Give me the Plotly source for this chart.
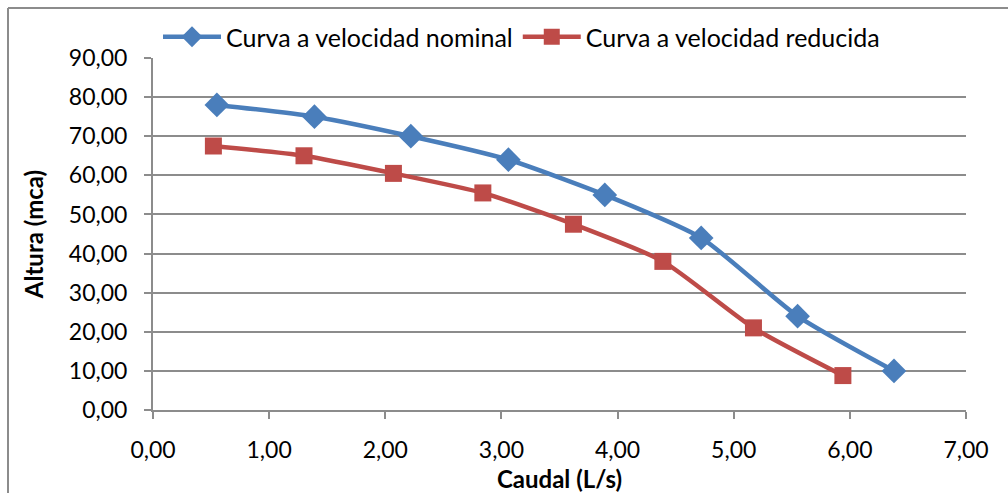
import plotly.graph_objects as go

# Pump curves: flow (L/s) vs head (mca)
caudal_nominal = [0.55, 1.39, 2.22, 3.06, 3.89, 4.72, 5.55, 6.38]
altura_nominal = [78.0, 75.0, 70.0, 64.0, 55.0, 44.0, 24.0, 10.0]

caudal_reducida = [0.52, 1.30, 2.07, 2.84, 3.62, 4.39, 5.17, 5.94]
altura_reducida = [67.5, 65.0, 60.5, 55.5, 47.5, 38.0, 21.0, 8.8]

x_ticks = [0, 1, 2, 3, 4, 5, 6, 7]
y_ticks = [0, 10, 20, 30, 40, 50, 60, 70, 80, 90]


def coma(v):
    return f"{v:.2f}".replace(".", ",")


W, H = 1008, 493
L, R, T, B = 153, 42, 58, 83
pw, ph = W - L - R, H - T - B

FONT = "Lato, 'Open Sans', sans-serif"
GRID = "#8c8c8c"

fig = go.Figure()
fig.add_trace(go.Scatter(
    x=caudal_nominal, y=altura_nominal, name="Curva a velocidad nominal",
    mode="lines+markers", line=dict(color="#4a7ebb", width=4.5, shape="spline", smoothing=0.6),
    marker=dict(symbol="diamond", size=19, color="#4a7ebb"),
))
fig.add_trace(go.Scatter(
    x=caudal_reducida, y=altura_reducida, name="Curva a velocidad reducida",
    mode="lines+markers", line=dict(color="#be4b48", width=4.5, shape="spline", smoothing=0.6),
    marker=dict(symbol="square", size=17, color="#be4b48"),
))

# outer chart frame (top and left edges visible)
px_x = lambda p: (p - L) / pw
px_y = lambda p: 1 - (p - T) / ph
fig.add_shape(type="line", xref="paper", yref="paper",
              x0=px_x(8), x1=px_x(W + 5), y0=px_y(8), y1=px_y(8),
              line=dict(color="#8c8c8c", width=2))
fig.add_shape(type="line", xref="paper", yref="paper",
              x0=px_x(8), x1=px_x(8), y0=px_y(8), y1=px_y(H + 5),
              line=dict(color="#8c8c8c", width=2))

fig.update_layout(
    width=W, height=H,
    margin=dict(l=L, r=R, t=T, b=B),
    paper_bgcolor="white", plot_bgcolor="white",
    font=dict(family=FONT, size=23, color="black"),
    showlegend=True,
    legend=dict(orientation="h", x=px_x(158), y=px_y(14), xanchor="left", yanchor="top",
                font=dict(size=25), itemwidth=58, bgcolor="rgba(0,0,0,0)",
                tracegroupgap=0),
    xaxis=dict(
        range=[0, 7], tickvals=x_ticks, ticktext=[coma(v) for v in x_ticks],
        showgrid=False, zeroline=False, showline=True, linecolor=GRID, linewidth=2,
        ticks="outside", ticklen=7, tickcolor=GRID, tickwidth=2,
        tickfont=dict(size=23), ticklabelstandoff=11, automargin=False,
        title=dict(text="<b>Caudal (L/s)</b>", font=dict(size=24), standoff=11),
    ),
    yaxis=dict(
        range=[0, 90], tickvals=y_ticks, ticktext=[coma(v) for v in y_ticks],
        showgrid=True, gridcolor=GRID, gridwidth=1.5, zeroline=False,
        showline=True, linecolor=GRID, linewidth=2,
        ticks="outside", ticklen=7, tickcolor=GRID, tickwidth=2,
        tickfont=dict(size=23), ticklabelstandoff=12, automargin=False,
        title=dict(text="<b>Altura (mca)</b>", font=dict(size=24), standoff=18),
    ),
)

fig.write_html("out.html")
